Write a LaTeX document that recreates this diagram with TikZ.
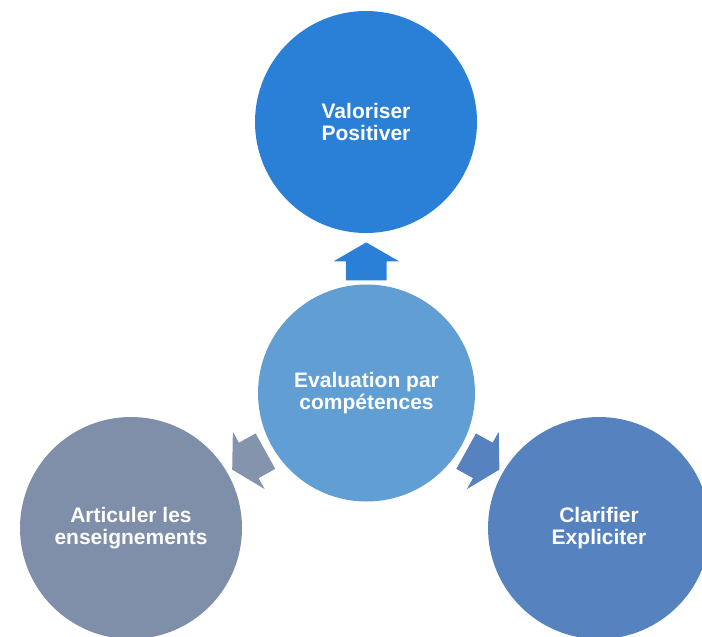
\documentclass[tikz,border=0pt]{standalone}
\usepackage{fontspec}
\setmainfont{Liberation Sans}
\usetikzlibrary{shapes,calc,positioning}
\definecolor{bleuhaut}{HTML}{2A80D7}
\definecolor{bleucentre}{HTML}{609ED3}
\definecolor{grisbleu}{HTML}{7F8EA9}
\definecolor{bleudroit}{HTML}{5683BF}
\tikzset{
  cercle/.style={circle, inner sep=0pt, text=white, align=center,
    font=\bfseries\fontsize{15.75}{17}\selectfont},
  fleche/.style={single arrow, draw=none, inner xsep=0pt, inner ysep=15pt,
    minimum height=28.5pt, single arrow head extend=9.4pt,
    single arrow tip angle=120}
}

\begin{document}
\begin{tikzpicture}[x=0.75pt,y=-0.75pt]
\useasboundingbox (0,0) rectangle (702,636);
% les quatre cercles
\node[cercle, fill=bleuhaut, minimum size=166.5pt] (haut) at (366,122) {Valoriser\\Positiver};
\node[cercle, fill=bleucentre, minimum size=162.75pt] (centre) at (366.5,393) {Evaluation par\\compétences};
\node[cercle, fill=grisbleu, minimum size=166.5pt] (gauche) at (131,528) {Articuler les\\enseignements};
\node[cercle, fill=bleudroit, minimum size=166.5pt] (droite) at (599,528) {Clarifier\\Expliciter};
% les fleches
\node[fleche, fill=bleuhaut, rotate=90] (flhaut) at ($(centre)!0.464!(haut)$) {};
\node[fleche, fill=grisbleu!95!white, rotate=209] (flgauche) at ($(centre)!0.478!(gauche)$) {};
\node[fleche, fill=bleudroit, rotate=-29] (fldroite) at ($(centre)!0.478!(droite)$) {};
\end{tikzpicture}
\end{document}
